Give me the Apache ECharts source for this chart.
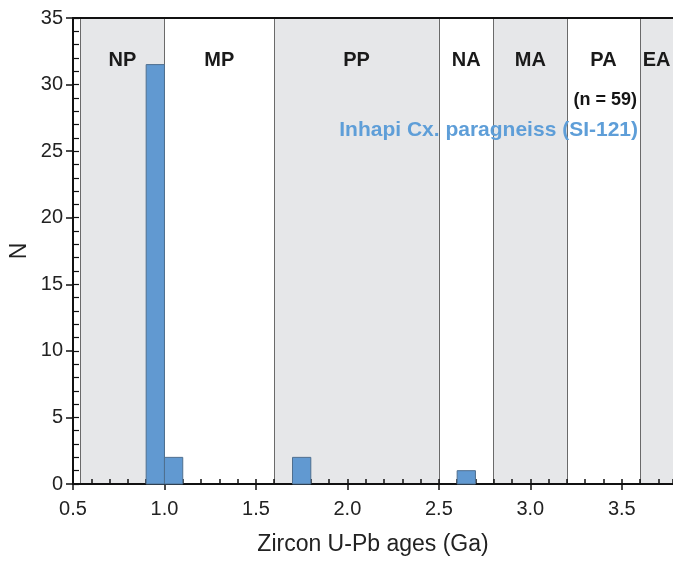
<!DOCTYPE html>
<html>
<head>
<meta charset="utf-8">
<script src="https://cdn.jsdelivr.net/npm/echarts@6/dist/echarts.min.js"></script>
<style>
html, body { margin: 0; padding: 0; background: #fff; }
#main { width: 673px; height: 561px; }
</style>
</head>
<body>
<div id="main"></div>
<script>
// histogram bins (Ga) and counts
var binStart = [0.9, 1.0, 1.7, 2.6];
var binEnd = [1.0, 1.1, 1.8, 2.7];
var counts = [31.5, 2, 2, 1];

// geologic eras
var eraNames = ['NP', 'MP', 'PP', 'NA', 'MA', 'PA', 'EA'];
var eraStart = [0.54, 1.0, 1.6, 2.5, 2.8, 3.2, 3.6];
var eraEnd = [1.0, 1.6, 2.5, 2.8, 3.2, 3.6, 4.0];
var eraShaded = [true, false, true, false, true, false, true];

var xMin = 0.5, xMax = 3.78;
var yMin = 0, yMax = 35;

var font = "'Liberation Sans', Arial, sans-serif";

var bars = binStart.map(function (s, i) { return [s, binEnd[i], counts[i]]; });

var areas = eraNames.map(function (name, i) {
    return [
        {
            xAxis: eraStart[i],
            yAxis: yMax,
            name: name,
            itemStyle: { color: eraShaded[i] ? '#e6e7e9' : 'rgba(0,0,0,0)' }
        },
        { xAxis: Math.min(eraEnd[i], xMax), yAxis: yMin }
    ];
});

var bounds = eraStart.map(function (v) { return { xAxis: v }; });

var option = {
    backgroundColor: '#fff',
    animation: false,
    textStyle: { fontFamily: font },
    grid: { left: 72, right: 0, top: 18, bottom: 77 },
    title: [
        {
            text: '(n = 59)',
            right: 36, top: 91, padding: 0,
            textStyle: { fontFamily: font, fontSize: 18, fontWeight: 'bold', color: '#151515' }
        },
        {
            text: 'Inhapi Cx. paragneiss (SI-121)',
            right: 35, top: 120, padding: 0,
            textStyle: { fontFamily: font, fontSize: 21, fontWeight: 'bold', color: '#5e9ed8' }
        }
    ],
    xAxis: [
        {
            type: 'value', position: 'bottom', z: 3,
            min: xMin, max: xMax, interval: 0.5,
            axisLine: { lineStyle: { color: '#111', width: 2 } },
            axisTick: { length: 6, lineStyle: { color: '#111', width: 1.5 } },
            axisLabel: {
                fontSize: 20, color: '#222', margin: 15, showMaxLabel: false,
                formatter: function (v) {
                    return Math.abs(v * 2 - Math.round(v * 2)) < 1e-6 ? v.toFixed(1) : '';
                }
            },
            splitLine: { show: false },
            name: 'Zircon U-Pb ages (Ga)',
            nameLocation: 'middle', nameGap: 49,
            nameTextStyle: { fontSize: 23, color: '#222', fontFamily: font }
        },
        {
            type: 'value', position: 'bottom', z: 3,
            min: xMin, max: xMax, interval: 0.1,
            axisLine: { show: false },
            axisTick: { inside: true, length: 5, lineStyle: { color: '#111', width: 1.5 } },
            axisLabel: { show: false },
            splitLine: { show: false }
        },
        {
            type: 'value', position: 'top', z: 3,
            min: xMin, max: xMax,
            axisLine: { lineStyle: { color: '#111', width: 2 } },
            axisTick: { show: false },
            axisLabel: { show: false },
            splitLine: { show: false }
        }
    ],
    yAxis: [
        {
            type: 'value', position: 'left', z: 3,
            min: yMin, max: yMax, interval: 5,
            axisLine: { show: true, lineStyle: { color: '#111', width: 2 } },
            axisTick: { show: true, length: 7, lineStyle: { color: '#111', width: 1.5 } },
            axisLabel: { fontSize: 20, color: '#222', margin: 10 },
            splitLine: { show: false },
            name: 'N',
            nameLocation: 'middle', nameGap: 42, nameMoveOverlap: false,
            nameTextStyle: { fontSize: 23, color: '#222', fontFamily: font }
        },
        {
            type: 'value', position: 'left', z: 3,
            min: yMin, max: yMax, interval: 1,
            axisLine: { show: false },
            axisTick: { show: true, inside: true, length: 6, lineStyle: { color: '#111', width: 1.2 } },
            axisLabel: { show: false },
            splitLine: { show: false }
        }
    ],
    series: [
        {
            type: 'line',
            data: [],
            silent: true,
            z: 1,
            markArea: {
                silent: true,
                z: 1,
                label: {
                    show: true, position: 'insideTop', distance: 32,
                    fontFamily: font, fontSize: 20, fontWeight: 'bold', color: '#1a1a1a'
                },
                data: areas
            },
            markLine: {
                silent: true,
                z: 1,
                symbol: 'none',
                label: { show: false },
                lineStyle: { color: '#6a6a6a', width: 1, type: 'solid' },
                data: bounds
            }
        },
        {
            type: 'custom',
            z: 4,
            data: bars,
            encode: { x: [0, 1], y: 2 },
            renderItem: function (params, api) {
                var p0 = api.coord([api.value(0), api.value(2)]);
                var p1 = api.coord([api.value(1), 0]);
                return {
                    type: 'rect',
                    shape: { x: p0[0], y: p0[1], width: p1[0] - p0[0], height: p1[1] - p0[1] },
                    style: { fill: '#6199d1', stroke: '#4f6f8f', lineWidth: 1 }
                };
            }
        }
    ]
};

var myChart = echarts.init(document.getElementById('main'));
myChart.setOption(option);
</script>
</body>
</html>
